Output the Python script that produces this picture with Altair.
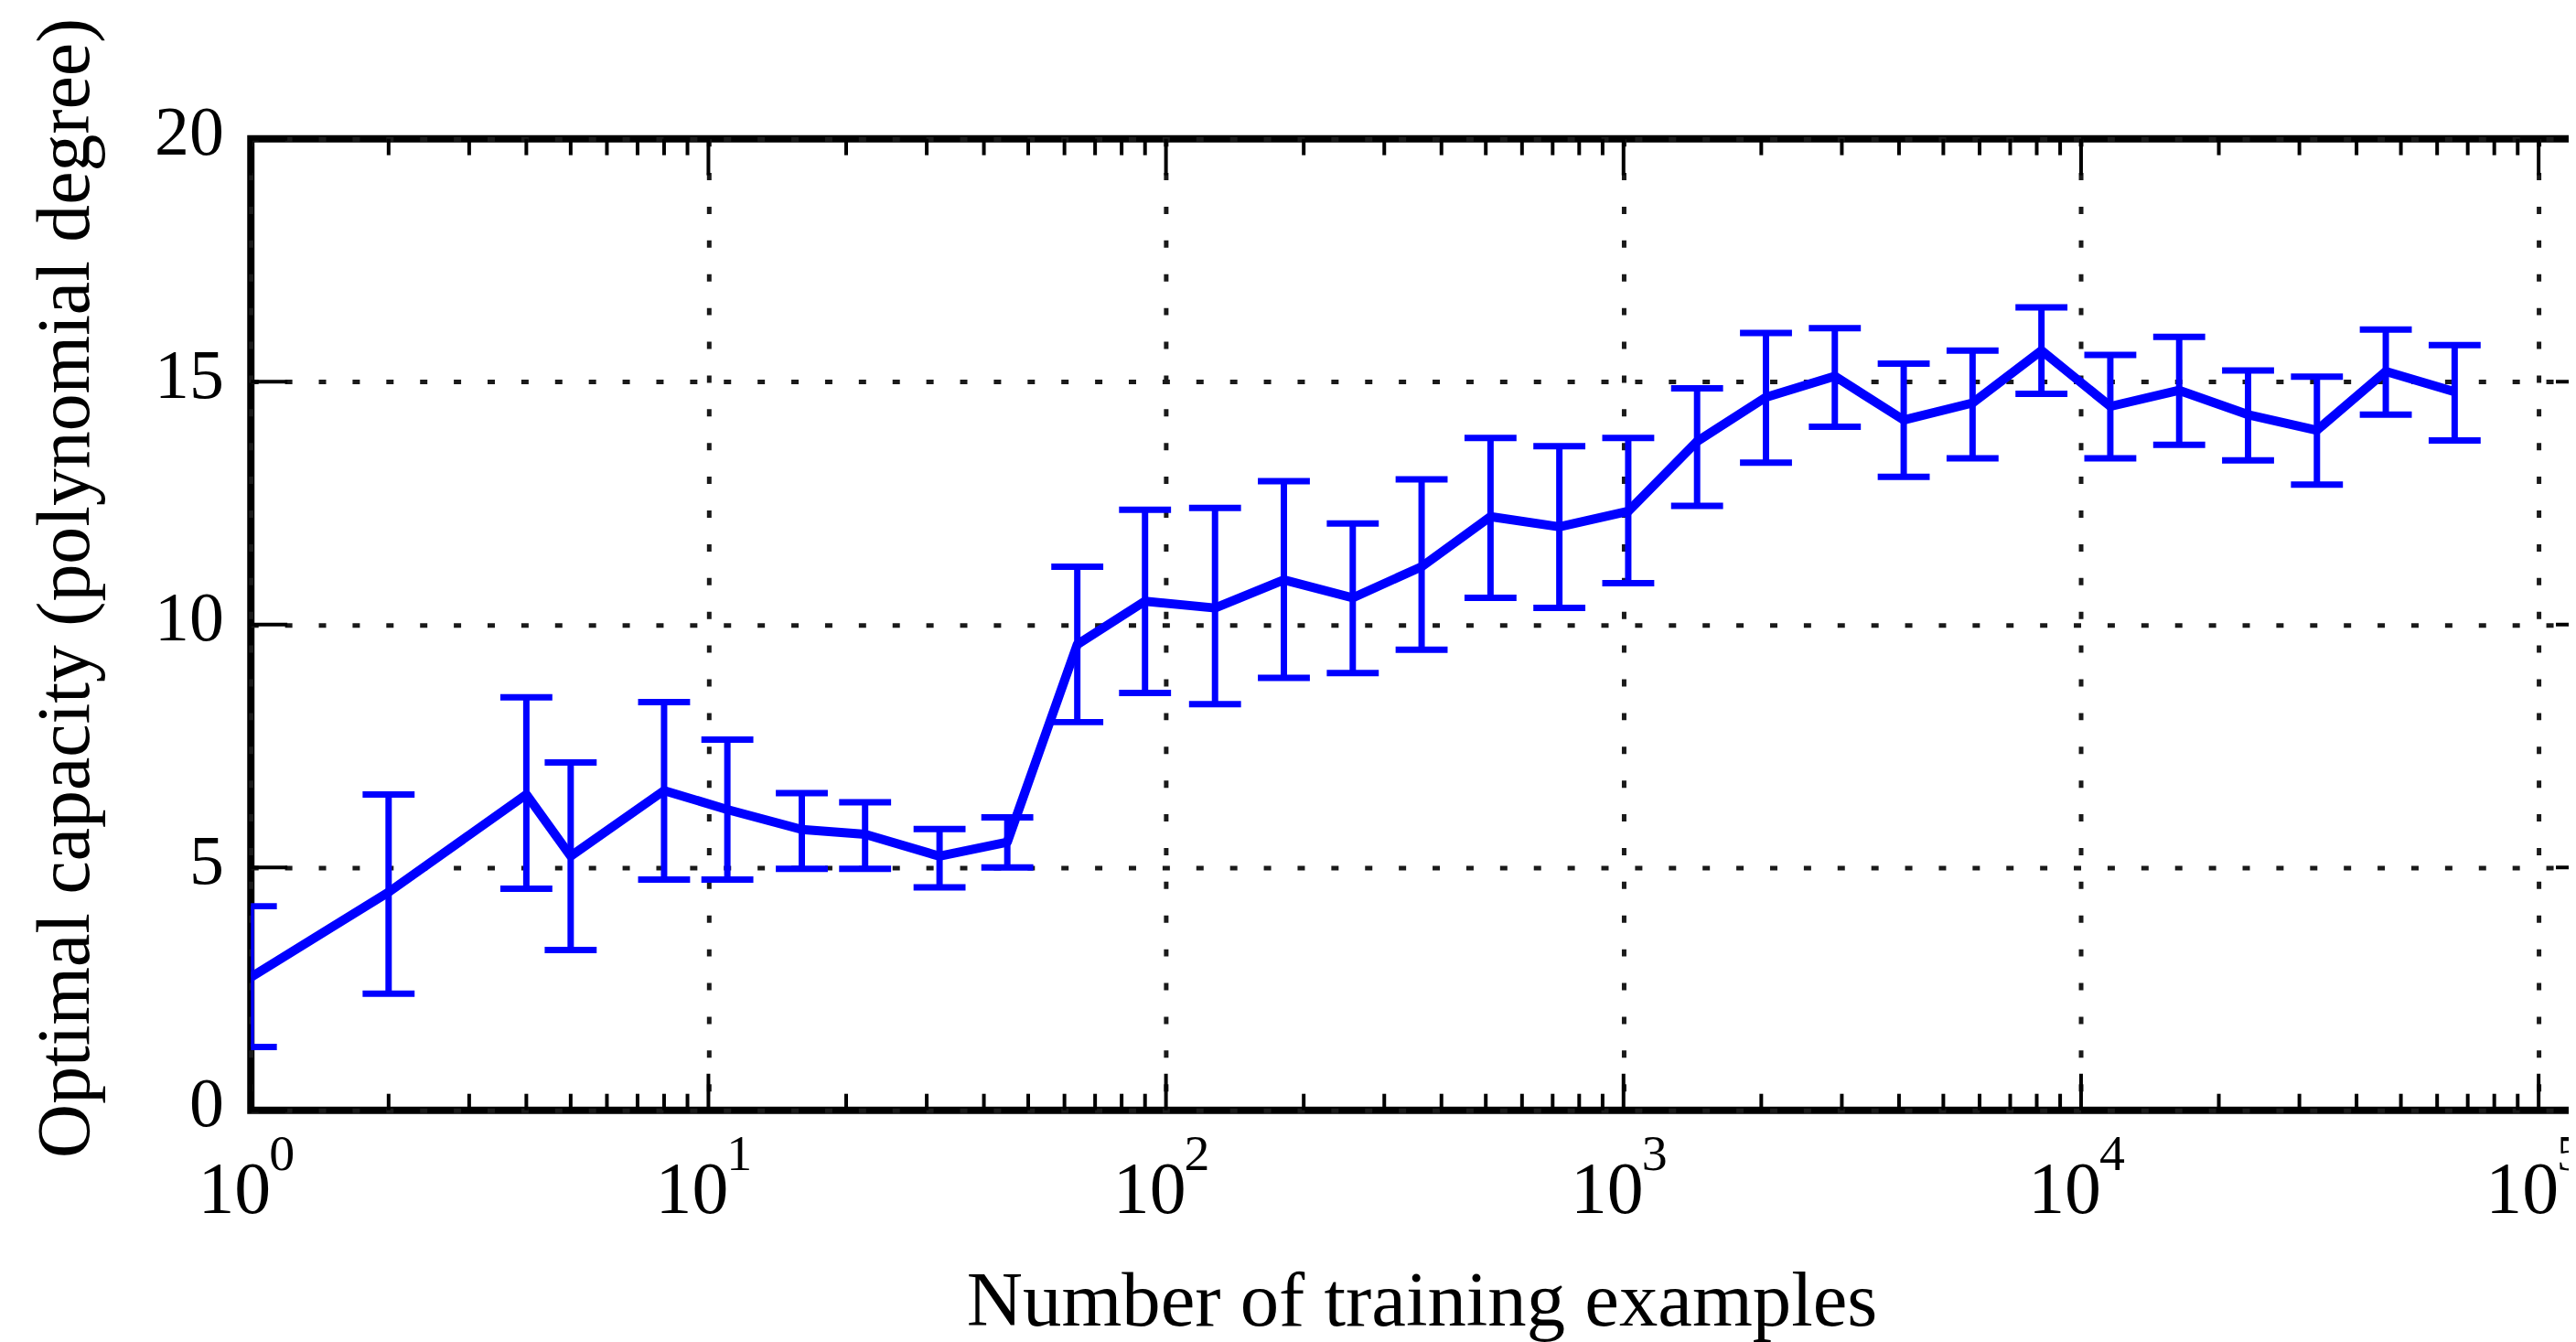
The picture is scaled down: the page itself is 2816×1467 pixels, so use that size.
import altair as alt
import pandas as pd

# ---- data ----
n_examples = [1, 2, 4, 5, 8, 11, 16, 22, 32, 45, 64, 90, 128, 181, 256, 362, 512,
              724, 1024, 1448, 2048, 2896, 4096, 5792, 8192, 11585, 16384, 23170,
              32768, 46340, 65536]
capacity = [2.74, 4.49, 6.50, 5.23, 6.58, 6.19, 5.78, 5.68, 5.23, 5.52, 9.59, 10.48,
            10.34, 10.92, 10.55, 11.19, 12.22, 12.01, 12.33, 13.77, 14.68, 15.11,
            14.21, 14.56, 15.64, 14.49, 14.82, 14.32, 14.00, 15.21, 14.79]
cap_hi = [4.20, 6.50, 8.50, 7.16, 8.40, 7.63, 6.53, 6.34, 5.79, 6.03, 11.19, 12.36,
          12.40, 12.95, 12.08, 12.99, 13.84, 13.67, 13.84, 14.86, 16.00, 16.10,
          15.37, 15.64, 16.53, 15.55, 15.92, 15.23, 15.10, 16.07, 15.75]
cap_lo = [1.30, 2.40, 4.56, 3.30, 4.75, 4.75, 4.97, 4.97, 4.59, 5.00, 7.99, 8.59,
          8.36, 8.90, 9.00, 9.48, 10.55, 10.34, 10.85, 12.44, 13.33, 14.07,
          13.04, 13.42, 14.75, 13.42, 13.70, 13.38, 12.88, 14.32, 13.79]

x_major = [1, 10, 100, 1000, 10000, 100000]
x_exponents = ["0", "1", "2", "3", "4", "5"]
minor_mult = [2, 3, 4, 5, 6, 7, 8, 9]
minor_decades = [1, 10, 100, 1000, 10000]
x_minor = [m * d for d in minor_decades for m in minor_mult]
y_major = [0, 5, 10, 15, 20]

x_title = "Number of training examples"
y_title = "Optimal capacity (polynomial degree)"

# ---- style ----
W, H = 2567, 1065
FONT = "Liberation Serif"
BLUE = "#0000ff"
GRID = dict(gridColor="#1a1a1a", gridDash=[8, 29], gridWidth=5, gridOpacity=1)

df = pd.DataFrame({"n": n_examples, "cap": capacity, "hi": cap_hi, "lo": cap_lo})
xscale = alt.Scale(type="log", domain=[1, 131072])
yscale = alt.Scale(domain=[0, 20], nice=False, zero=False)

x_axis = alt.Axis(values=x_major, grid=True, labels=False, ticks=False, domain=False,
                  title=x_title, titleFont=FONT, titleFontSize=85, titleFontWeight="normal",
                  titleColor="black", titleBaseline="alphabetic", titleY=236, **GRID)
y_axis = alt.Axis(values=y_major, grid=True, ticks=False, domain=False,
                  labelFont=FONT, labelFontSize=76, labelPadding=30, labelColor="black",
                  labelOffset=-6, labelBaseline="middle",
                  title=y_title, titleFont=FONT, titleFontSize=82, titleFontWeight="normal",
                  titleColor="black", titleAngle=270, titleX=-178, titleY=492,
                  titleBaseline="alphabetic", titleAlign="center", **GRID)


def X(field):
    return alt.X(field, type="quantitative", scale=xscale, axis=x_axis)


def Y(field):
    return alt.Y(field, type="quantitative", scale=yscale, axis=y_axis)


line = alt.Chart(df).mark_line(color=BLUE, strokeWidth=10, clip=True, strokeJoin="round").encode(
    x=X("n"), y=Y("cap")
)
bars = alt.Chart(df).mark_rule(color=BLUE, strokeWidth=7, clip=True).encode(
    x=X("n"), y=Y("lo"), y2="hi:Q"
)
caps_hi = alt.Chart(df).mark_tick(orient="horizontal", size=57, thickness=7, color=BLUE,
                                  opacity=1, clip=True).encode(x=X("n"), y=Y("hi"))
caps_lo = alt.Chart(df).mark_tick(orient="horizontal", size=57, thickness=7, color=BLUE,
                                  opacity=1, clip=True).encode(x=X("n"), y=Y("lo"))

maj_df = pd.DataFrame({"n": x_major, "base": ["10"] * len(x_major), "exp": x_exponents})
min_df = pd.DataFrame({"n": x_minor})
ymaj_df = pd.DataFrame({"cap": y_major})

tick_layers = [
    alt.Chart(maj_df).mark_rule(color="black", strokeWidth=4).encode(x=X("n"), y=alt.value(H), y2=alt.value(H - 40)),
    alt.Chart(maj_df).mark_rule(color="black", strokeWidth=4).encode(x=X("n"), y=alt.value(0), y2=alt.value(40)),
    alt.Chart(min_df).mark_rule(color="black", strokeWidth=4).encode(x=X("n"), y=alt.value(H), y2=alt.value(H - 18)),
    alt.Chart(min_df).mark_rule(color="black", strokeWidth=4).encode(x=X("n"), y=alt.value(0), y2=alt.value(18)),
    alt.Chart(ymaj_df).mark_rule(color="black", strokeWidth=4).encode(y=Y("cap"), x=alt.value(0), x2=alt.value(40)),
    alt.Chart(ymaj_df).mark_rule(color="black", strokeWidth=4).encode(y=Y("cap"), x=alt.value(W), x2=alt.value(W - 40)),
]

base_lbl = alt.Chart(maj_df).mark_text(font=FONT, fontSize=80, baseline="alphabetic", align="center",
                                       dx=-18, color="black").encode(
    x=X("n"), y=alt.value(H + 113), text="base:N"
)
exp_lbl = alt.Chart(maj_df).mark_text(font=FONT, fontSize=56, baseline="alphabetic", align="left",
                                      dx=20, color="black").encode(
    x=X("n"), y=alt.value(H + 66), text="exp:N"
)

chart = alt.layer(line, bars, caps_hi, caps_lo, *tick_layers, base_lbl, exp_lbl).properties(
    width=W, height=H,
    autosize=alt.AutoSizeParams(type="none"),
    padding={"left": 267, "top": 142, "right": -26, "bottom": 252},
    background="white",
).configure_view(stroke="black", strokeWidth=8)

chart.save("out.html", embed_options={"renderer": "svg", "actions": False})
